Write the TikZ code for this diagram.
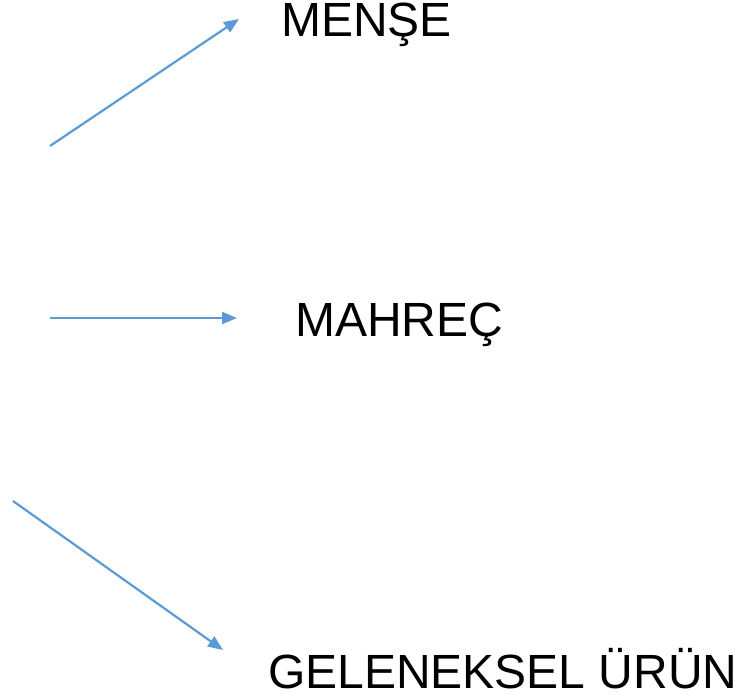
\documentclass[tikz,border=0pt]{standalone}
\usepackage{fontspec}
\setmainfont{Liberation Sans}
\usetikzlibrary{arrows.meta}
\definecolor{arrowblue}{RGB}{91,155,213}
\tikzset{
  lbl/.style={inner sep=0pt, anchor=base west, font=\fontsize{48}{54}\selectfont},
  conn/.style={draw=arrowblue, line width=2.2pt, -{Triangle[length=15pt,width=12pt]}}
}
\begin{document}
\begin{tikzpicture}[x=1pt,y=-1pt]
\useasboundingbox (0,0) rectangle (739,698);
\node[lbl] (mense) at (281,37) {MENŞE};
\node[lbl] (mahrec) at (295,336) {MAHREÇ};
\node[lbl] (urun) at (268,688) {GELENEKSEL ÜRÜN};
\coordinate (s1) at (50,146);
\coordinate (e1) at (239,19);
\coordinate (s2) at (50,318);
\coordinate (e2) at (237,318);
\coordinate (s3) at (13,501);
\coordinate (e3) at (223,650);
\draw[conn] (s1) -- (e1);
\draw[conn] (s2) -- (e2);
\draw[conn] (s3) -- (e3);
\end{tikzpicture}
\end{document}
